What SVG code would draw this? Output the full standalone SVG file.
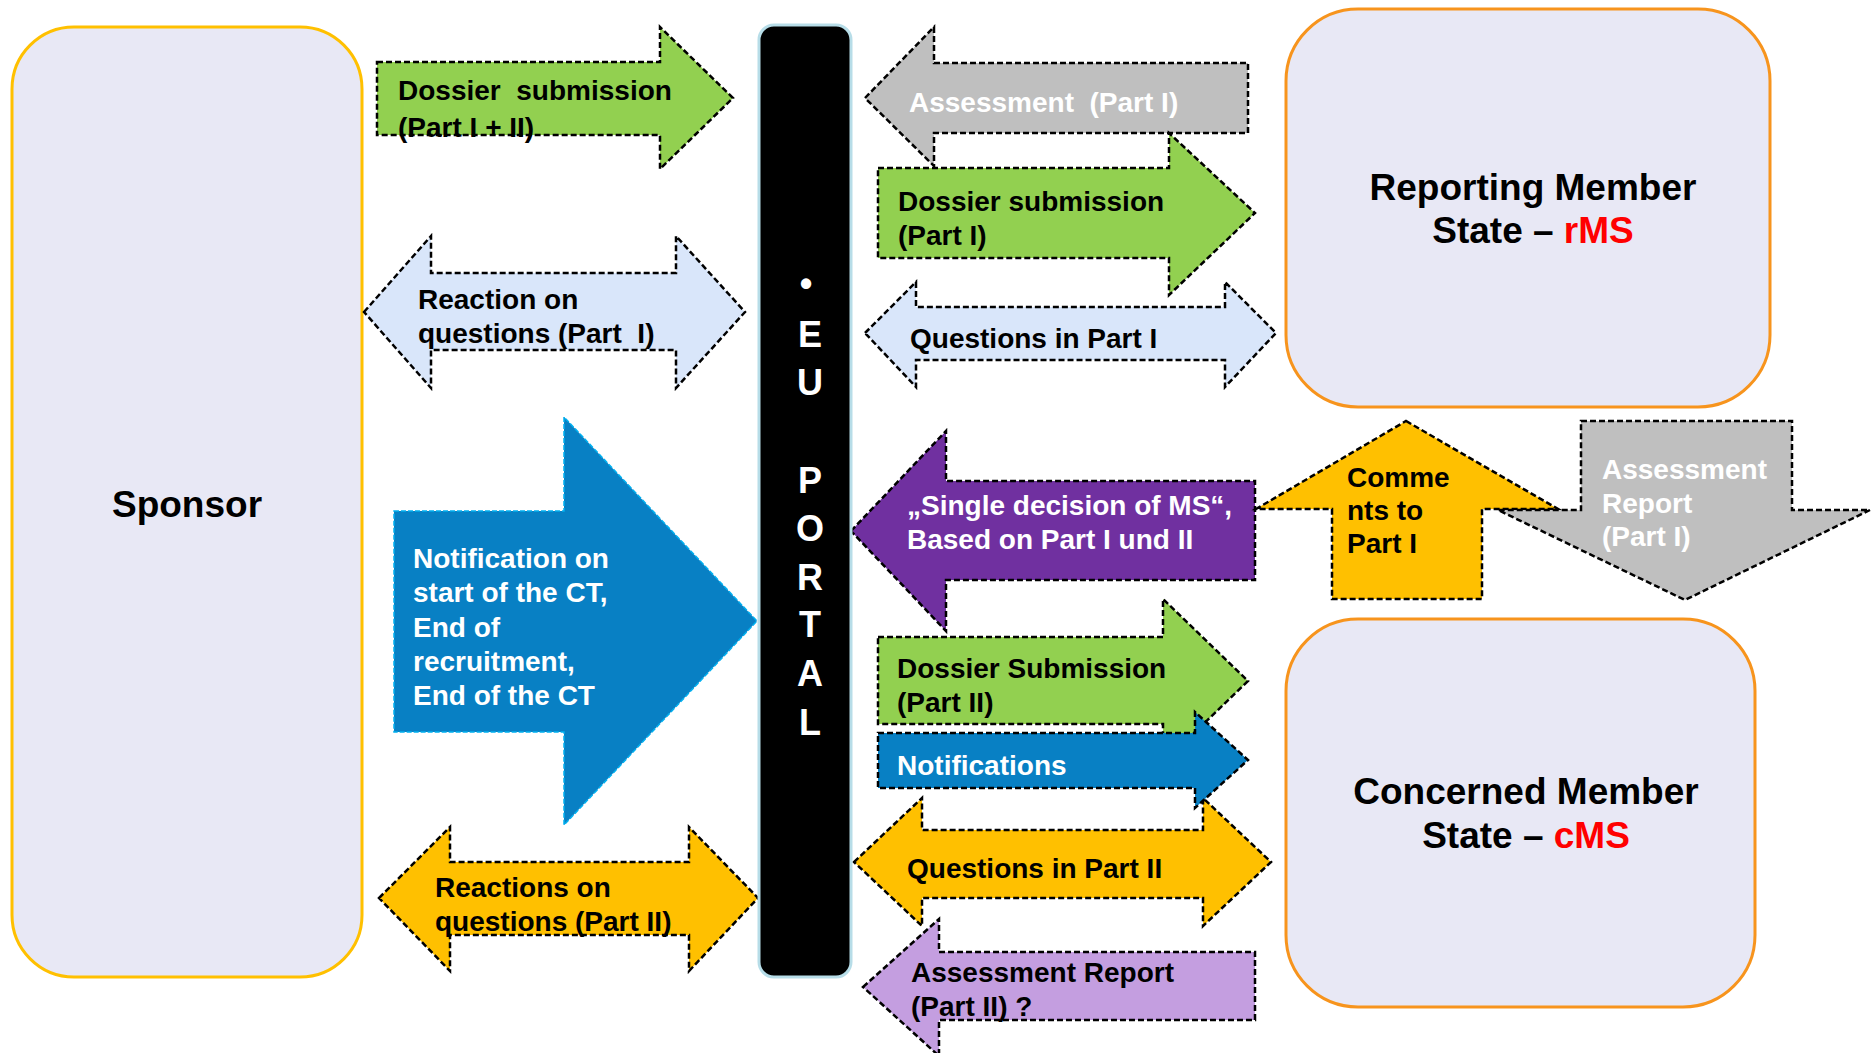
<svg xmlns="http://www.w3.org/2000/svg" width="1872" height="1053" viewBox="0 0 1872 1053">
<style>
text{font-family:"Liberation Sans",Arial,sans-serif;font-weight:bold;white-space:pre;}
.lbl{font-size:28px;fill:#000;}
.wl{font-size:28px;fill:#fff;}
.big{font-size:37px;fill:#000;text-anchor:middle;}
.red{fill:#FF0000;}
.arr{stroke:#000;stroke-width:2.5;stroke-dasharray:6 3;}
.box{fill:#E8E8F5;stroke-width:3;}
.portal{font-size:36px;fill:#fff;text-anchor:middle;}
</style>
<rect width="1872" height="1053" fill="#fff"/>

<g id="sponsor">
<rect class="box" x="12" y="27" width="350" height="950" rx="62" stroke="#FFC000"/>
<text class="big" x="187" y="517">Sponsor</text>
</g>

<g id="rms">
<rect class="box" x="1286" y="9" width="484" height="398" rx="72" stroke="#F7941D"/>
<text class="big" x="1533" y="200">Reporting Member</text>
<text class="big" x="1533" y="243">State – <tspan class="red">rMS</tspan></text>
</g>

<g id="cms">
<rect class="box" x="1286" y="619" width="469" height="388" rx="72" stroke="#F7941D"/>
<text class="big" x="1526" y="804">Concerned Member</text>
<text class="big" x="1526" y="848">State – <tspan class="red">cMS</tspan></text>
</g>

<g id="connectors">
<g id="a-dossier-1-2">
<path class="arr" fill="#92D050" d="M377,62 H660 V27 L733,98 L660,169 V135 H377 Z"/>
<text class="lbl" x="398" y="100">Dossier  submission</text>
<text class="lbl" x="398" y="137">(Part I + II)</text>
</g>
<g id="a-reaction-1">
<path class="arr" fill="#D9E6FA" d="M364,312 L431,236 V273 H676 V236 L745,312 L676,388 V350 H431 V388 Z"/>
<text class="lbl" x="418" y="309">Reaction on</text>
<text class="lbl" x="418" y="343">questions (Part  I)</text>
</g>
<g id="a-notification-ct">
<path fill="#0880C4" stroke="#00B0F0" stroke-width="1.5" stroke-dasharray="5 2" d="M394,511 H564 V417 L757,621 L564,825 V732 H394 Z"/>
<text class="wl" x="413" y="568">Notification on</text>
<text class="wl" x="413" y="602">start of the CT,</text>
<text class="wl" x="413" y="637">End of</text>
<text class="wl" x="413" y="671">recruitment,</text>
<text class="wl" x="413" y="705">End of the CT</text>
</g>
<g id="a-reactions-2">
<path class="arr" fill="#FFC000" d="M379,898 L450,827 V862 H689 V827 L758,898 L689,971 V935 H450 V971 Z"/>
<text class="lbl" x="435" y="897">Reactions on</text>
<text class="lbl" x="435" y="931">questions (Part II)</text>
</g>

<g id="a-assessment-1">
<path class="arr" fill="#BFBFBF" d="M865,98 L934,27 V63 H1248 V133 H934 V166 Z"/>
<text class="wl" x="909" y="112">Assessment  (Part I)</text>
</g>
<g id="a-dossier-1">
<path class="arr" fill="#92D050" d="M878,168 H1169 V133 L1255,213 L1169,295 V258 H878 Z"/>
<text class="lbl" x="898" y="211">Dossier submission</text>
<text class="lbl" x="898" y="245">(Part I)</text>
</g>
<g id="a-questions-1">
<path class="arr" fill="#D9E6FA" d="M865,333 L916,282 V307 H1225 V282 L1276,333 L1225,387 V360 H916 V387 Z"/>
<text class="lbl" x="910" y="348">Questions in Part I</text>
</g>
<g id="a-single-decision">
<path class="arr" fill="#7030A0" d="M851,531 L946,431 V481 H1255 V580 H946 V631 Z"/>
<text class="wl" x="907" y="515">„Single decision of MS“,</text>
<text class="wl" x="907" y="549">Based on Part I und II</text>
</g>
<g id="a-comments">
<path class="arr" fill="#FFC000" d="M1406,421 L1558,509 H1482 V599 H1332 V509 H1256 Z"/>
<text class="lbl" x="1347" y="487">Comme</text>
<text class="lbl" x="1347" y="520">nts to</text>
<text class="lbl" x="1347" y="553">Part I</text>
</g>
<g id="a-assessment-report-1">
<path class="arr" fill="#BFBFBF" d="M1581,421 H1792 V510 H1870 L1685,600 L1498,510 H1581 Z"/>
<text class="wl" x="1602" y="479">Assessment</text>
<text class="wl" x="1602" y="513">Report</text>
<text class="wl" x="1602" y="546">(Part I)</text>
</g>
<g id="a-dossier-2">
<path class="arr" fill="#92D050" d="M878,637 H1163 V599 L1248,681 L1163,763 V724 H878 Z"/>
<text class="lbl" x="897" y="678">Dossier Submission</text>
<text class="lbl" x="897" y="712">(Part II)</text>
</g>
<g id="a-questions-2">
<path class="arr" fill="#FFC000" d="M854,862 L922,798 V830 H1203 V798 L1271,862 L1203,926 V898 H922 V926 Z"/>
<text class="lbl" x="907" y="878">Questions in Part II</text>
</g>
<g id="a-notifications">
<path class="arr" fill="#0880C4" d="M878,733 H1195 V712 L1248,760 L1195,808 V788 H878 Z"/>
<text class="wl" x="897" y="775">Notifications</text>
</g>
<g id="a-assessment-report-2">
<path class="arr" fill="#C49EE0" d="M863,987 L939,919 V952 H1255 V1020 H939 V1056 Z"/>
<text class="lbl" x="911" y="982">Assessment Report</text>
<text class="lbl" x="911" y="1016">(Part II) ?</text>
</g>
</g>

<g id="eu-portal">
<rect x="759" y="25" width="92" height="952" rx="15" fill="#000" stroke="#B7DDE8" stroke-width="3"/>
<text class="portal" x="806" y="296">•</text>
<text class="portal" x="810" y="347">E</text>
<text class="portal" x="810" y="395">U</text>
<text class="portal" x="810" y="493">P</text>
<text class="portal" x="810" y="541">O</text>
<text class="portal" x="810" y="590">R</text>
<text class="portal" x="810" y="637">T</text>
<text class="portal" x="810" y="686">A</text>
<text class="portal" x="810" y="735">L</text>
</g>
</svg>
